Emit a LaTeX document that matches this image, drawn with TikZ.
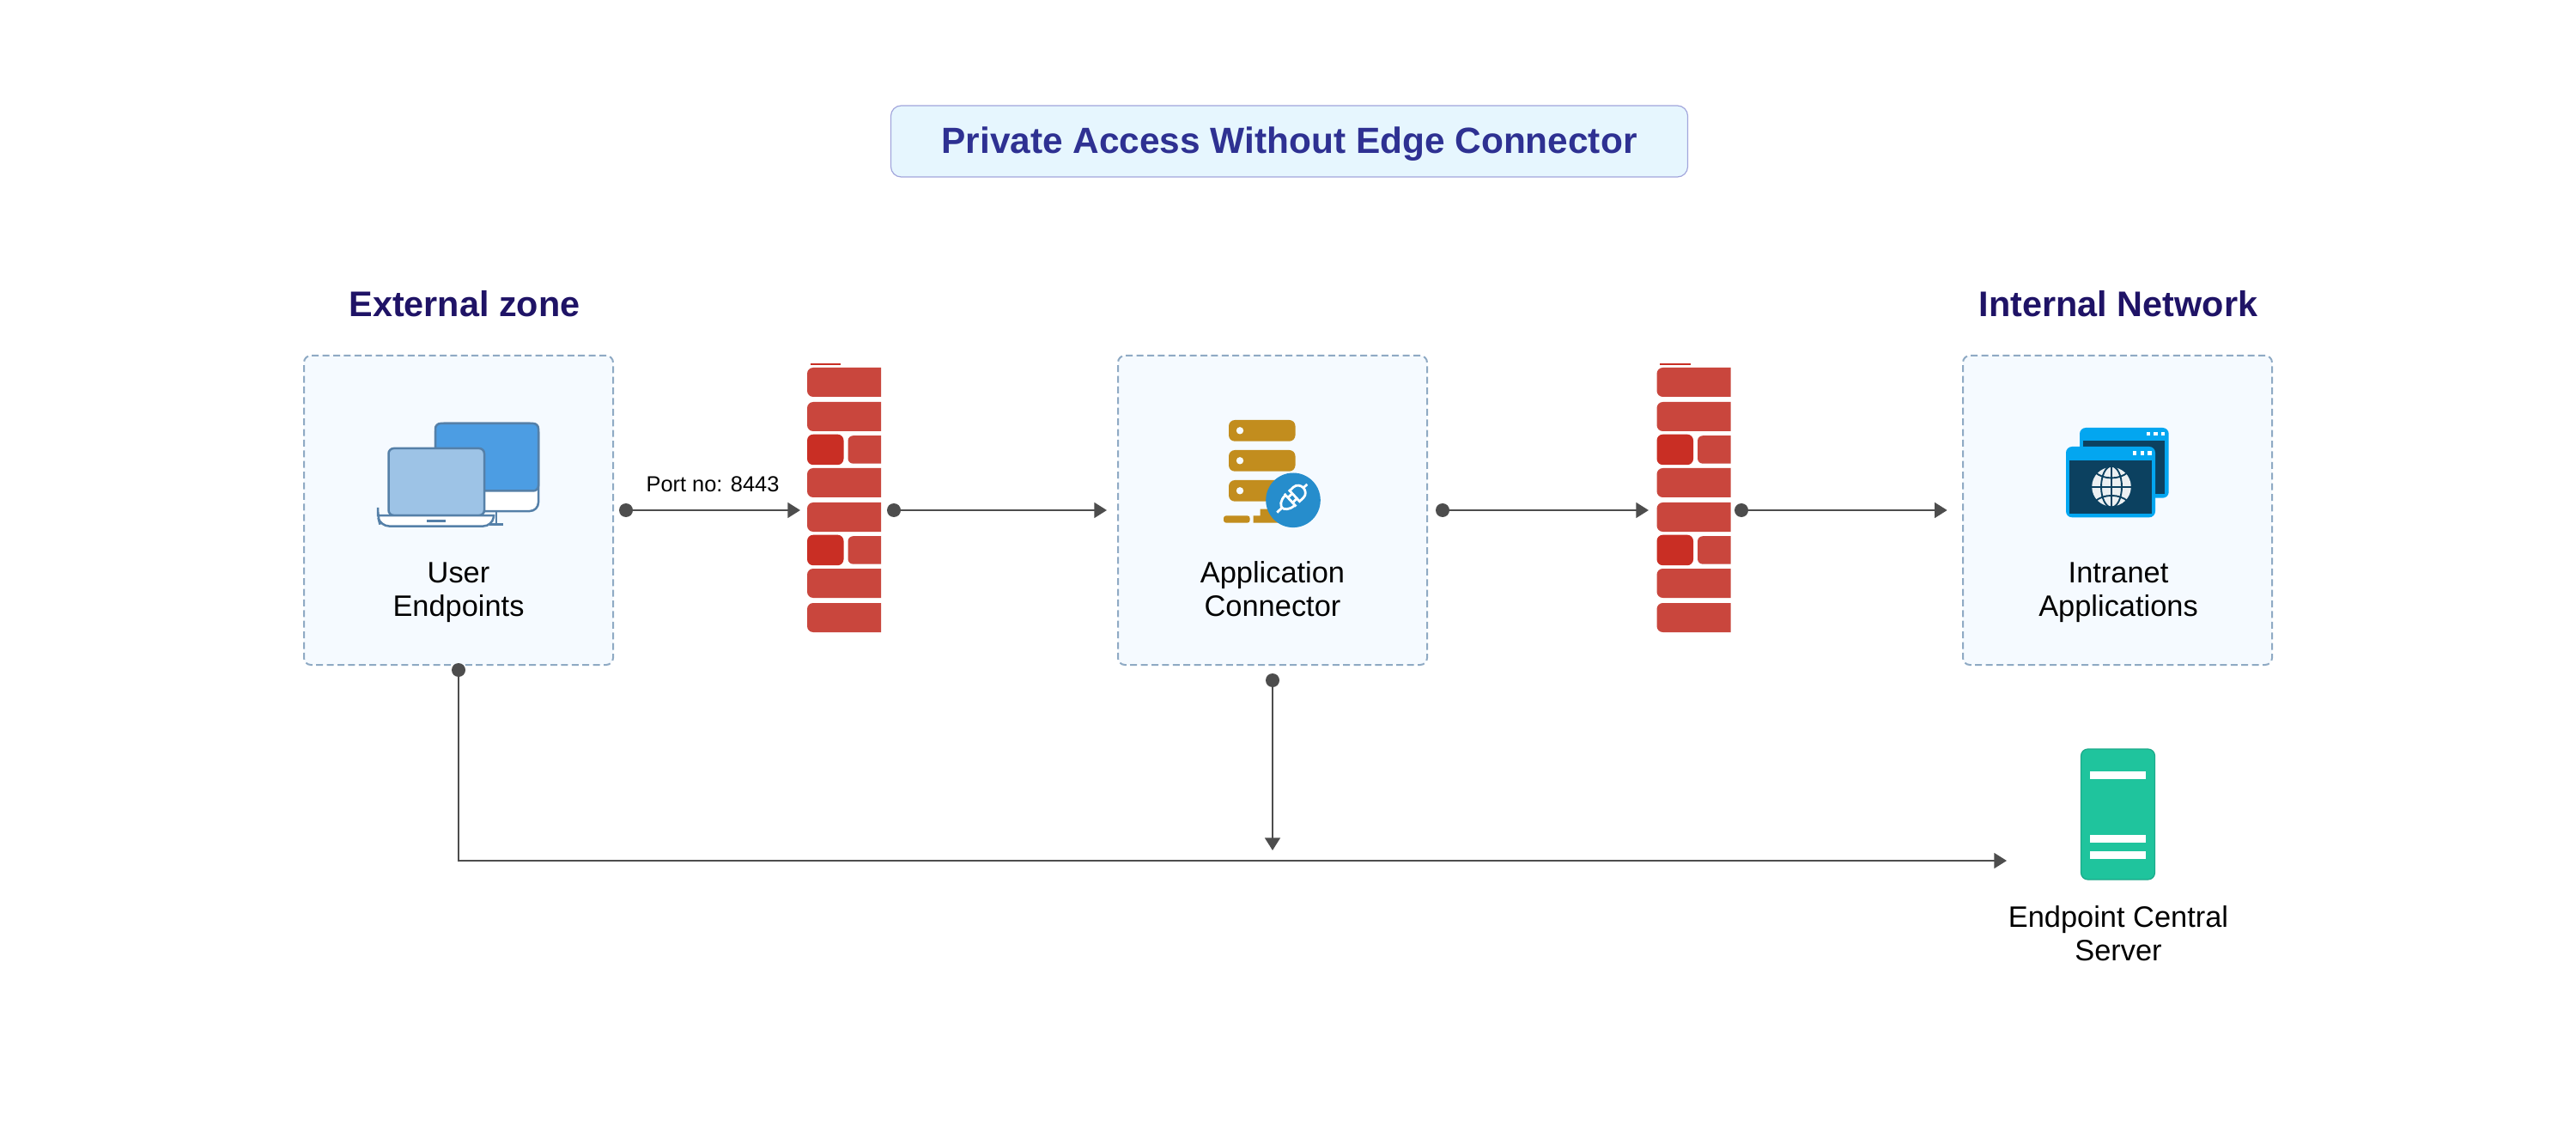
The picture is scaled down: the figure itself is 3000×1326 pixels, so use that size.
\documentclass[tikz,border=0pt]{standalone}
\usepackage{fontspec}
\setmainfont{Liberation Sans}
\usetikzlibrary{arrows.meta}
\definecolor{linecol}{HTML}{4D4D4D}
\definecolor{dashcol}{HTML}{8FAAC4}
\definecolor{boxfill}{HTML}{F5FAFF}
\definecolor{titlefill}{HTML}{E6F6FE}
\definecolor{titleline}{HTML}{A2A6DC}
\definecolor{titletext}{HTML}{2E3192}
\definecolor{zonetext}{HTML}{1F1366}
\definecolor{brick}{HTML}{C9463D}
\definecolor{brickred}{HTML}{C92E24}
\definecolor{monitorline}{HTML}{5580A8}
\definecolor{monitorblue}{HTML}{4C9DE3}
\definecolor{laptopblue}{HTML}{9DC3E6}
\definecolor{gold}{HTML}{C28D1E}
\definecolor{plugblue}{HTML}{268DCC}
\definecolor{winblue}{HTML}{03A6F0}
\definecolor{windark}{HTML}{0C4160}
\definecolor{srvgreen}{HTML}{1FC49D}
\definecolor{srvline}{HTML}{1CA98A}
\tikzset{
  x=0.5pt,y=-0.5pt,
  zonebox/.style={draw=dashcol,fill=boxfill,line width=1pt,dash pattern=on 4pt off 2.2pt,rounded corners=4pt,minimum width=180pt,minimum height=180pt,inner sep=0pt},
  titlebox/.style={draw=titleline,fill=titlefill,line width=0.6pt,rounded corners=6pt,minimum width=464pt,minimum height=41.5pt,inner sep=0pt,text=titletext,text height=18.5pt,text depth=4pt,font=\fontsize{21.2}{24}\selectfont\bfseries},
  zonelabel/.style={text=zonetext,text height=18pt,text depth=3.5pt,font=\fontsize{20.7}{24}\selectfont\bfseries,inner sep=0pt},
  itemlabel/.style={text=black,align=center,font=\fontsize{17.2}{19.9}\selectfont,inner sep=0pt},
  portlabel/.style={text=black,text height=10pt,text depth=2pt,font=\fontsize{12.7}{14}\selectfont,inner sep=0pt},
  dotnode/.style={circle,fill=linecol,inner sep=0pt,minimum size=8pt},
  flow/.style={draw=linecol,line width=1.3pt,-{Triangle[length=7.3pt,width=8.8pt]}},
}
\newcommand{\fwall}[1]{%
  \begin{scope}[shift={(#1,0)}]
    \clip (0,420) rectangle (86,740);
    \fill[brickred] (3.5,423) rectangle (39,424.6);
    \foreach \yy in {428,468,545,585,662,702}{
      \fill[brick,rounded corners=3.5pt] (0,\yy) rectangle (110,\yy+34);
    }
    \foreach \yy in {505.7,622.7}{
      \fill[brickred,rounded corners=3.5pt] (0,\yy) rectangle (42.5,\yy+35.5);
      \fill[brick,rounded corners=3pt] (47.5,\yy+1.5) rectangle (110,\yy+34);
    }
  \end{scope}}
\begin{document}
\begin{tikzpicture}
\useasboundingbox (0,0) rectangle (3000,1326);
\fill[white] (0,0) rectangle (3000,1326);
% title
\node[titlebox] (title) at (1501.5,164.5) {Private Access Without Edge Connector};
\node[zonelabel] (extzone) at (541,353.8) {External zone};
\node[zonelabel] (intzone) at (2467,353.8) {Internal Network};
% boxes
\node[zonebox] (userbox) at (534,594) {};
\node[zonebox] (appbox) at (1482,594) {};
\node[zonebox] (intrabox) at (2466,594) {};
% firewalls
\fwall{940}
\fwall{1929.5}
% user icon
\begin{scope}[line width=1.25pt,draw=monitorline]
  \draw[fill=white,rounded corners=5pt] (507,493) rectangle (627,595);
  \draw[fill=monitorblue,rounded corners=3pt] (507,571.5) -- (507,493) -- (627,493) -- (627,571.5) -- cycle;
  \draw (578,595) -- (578,610) (570,610.5) -- (586,610.5);
  \draw[fill=laptopblue,rounded corners=3pt] (452.5,600) -- (452.5,522) -- (564,522) -- (564,600) -- cycle;
  \draw[fill=white] (440,600) -- (575,600) -- (575,601) [rounded corners=5pt] -- (573,612.5) -- (443,612.5) -- (440,601) [sharp corners] -- cycle;
  \draw (497,606.5) -- (519,606.5);
\end{scope}
% application connector icon
\foreach \yy in {489,524,559}{
  \fill[gold,rounded corners=3.5pt] (1431,\yy) rectangle (1508.5,\yy+24.7);
  \fill[boxfill] (1444,\yy+12.3) circle[radius=4.2];
}
\fill[gold,rounded corners=1.5pt] (1425,600.3) rectangle (1455.6,608.7);
\fill[gold] (1459.5,608.7) -- (1459.5,600.3) -- (1467.7,600.3) -- (1467.7,592.7) -- (1500,592.7) -- (1500,608.7) -- cycle;
\fill[plugblue] (1506,582.3) circle[radius=31.8];
\begin{scope}[shift={(1505.5,579.5)},rotate=43,draw=white,line width=1.4pt]
  \draw (3,-8.5) -- (9,-8.5) .. controls (14,-8.5) and (17,-4) .. (17,0) .. controls (17,4) and (14,8.5) .. (9,8.5) -- (3,8.5) -- cycle;
  \draw (17,0) -- (23,0);
  \draw (-4,-10) -- (-4,10);
  \draw (-4,-8) .. controls (-13,-8) and (-17,-3) .. (-17,0) .. controls (-17,3) and (-13,8) .. (-4,8);
  \draw (-4,-4) -- (3,-4) (-4,4) -- (3,4);
  \draw (-17,0) -- (-25,0);
\end{scope}
% intranet icon
\fill[winblue,rounded corners=3.5pt] (2422,498) rectangle (2525.7,579.7);
\fill[windark] (2426,513) rectangle (2521,575.3);
\foreach \xx in {2499.5,2508.4,2517}{\fill[white] (\xx,502.6) rectangle +(4.4,4.4);}
\fill[winblue,rounded corners=3.5pt] (2406,520) rectangle (2510,602.3);
\fill[windark] (2410,535.7) rectangle (2506,598);
\foreach \xx in {2483.7,2492.7,2501.3}{\fill[white] (\xx,525.3) rectangle +(4.4,4.4);}
\begin{scope}[shift={(2459,566.7)}]
  \fill[white!92!windark] (0,0) circle[radius=22.8];
  \begin{scope}[draw=windark,line width=0.95pt]
    \draw (0,0) ellipse[x radius=12,y radius=24];
    \draw (0,-24) -- (0,24);
    \draw (-24,0) -- (24,0);
    \draw (-19,-17) .. controls (-10,-8) and (10,-8) .. (19,-17);
    \draw (-19,17) .. controls (-10,8) and (10,8) .. (19,17);
  \end{scope}
\end{scope}
% server icon
\node[draw=srvline,fill=srvgreen,line width=0.6pt,rounded corners=4pt,minimum width=43pt,minimum height=76pt,inner sep=0pt] (server) at (2466.5,948) {};
\foreach \yy in {898,971.7,990.7}{\fill[white] (2434,\yy) rectangle (2499,\yy+9.3);}
% labels
\node[itemlabel] (userlab) at (534,690) {User\strut\\Endpoints\strut};
\node[itemlabel] (applab) at (1482,690) {Application\strut\\Connector\strut};
\node[itemlabel] (intralab) at (2467,690) {Intranet\strut\\Applications\strut};
\node[itemlabel] (srvlab) at (2467,1091) {Endpoint Central\strut\\Server\strut};
\node[portlabel] (portlab) at (830,564.7) {Port no: 8443};
% connector ends
\node[dotnode] (d1) at (729,594) {};
\node[dotnode] (d2) at (1041,594) {};
\node[dotnode] (d3) at (1680,594) {};
\node[dotnode] (d4) at (2028,594) {};
\node[dotnode] (d5) at (534,780) {};
\node[dotnode] (d6) at (1482,792) {};
\coordinate (e1) at (932,594);
\coordinate (e2) at (1289,594);
\coordinate (e3) at (1920,594);
\coordinate (e4) at (2267.7,594);
\coordinate (e5) at (2337,1002);
\coordinate (e6) at (1482,990);
\draw[flow] (d1) -- (e1);
\draw[flow] (d2) -- (e2);
\draw[flow] (d3) -- (e3);
\draw[flow] (d4) -- (e4);
\draw[flow] (d6) -- (e6);
\draw[flow] (d5) |- (e5);
\end{tikzpicture}
\end{document}
